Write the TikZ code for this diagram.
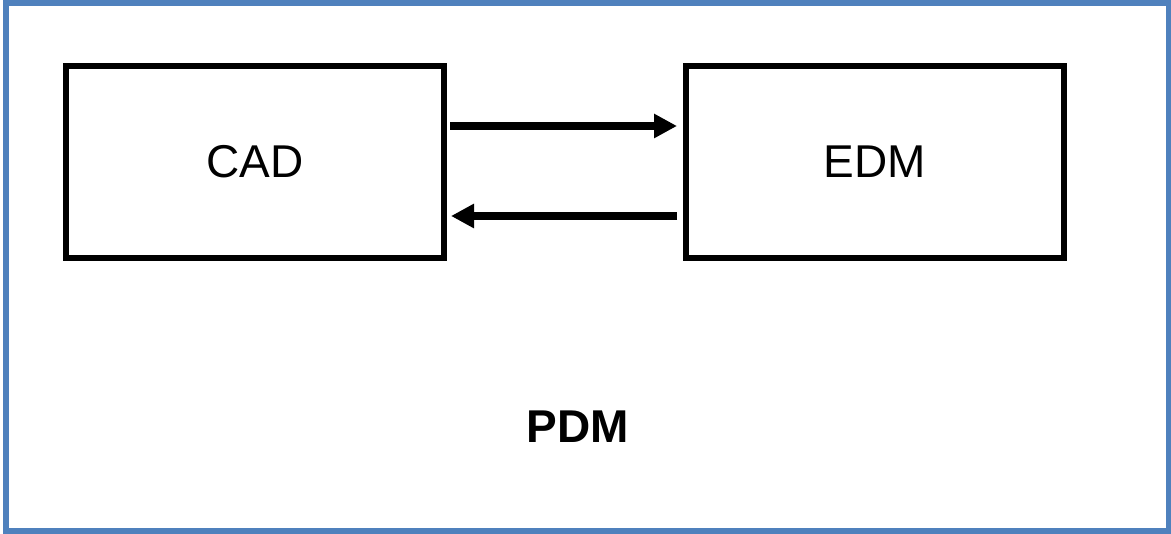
\documentclass[tikz,border=0pt]{standalone}
\usepackage{fontspec}
\setmainfont{Liberation Sans}
\usepackage{tikz}
\usetikzlibrary{arrows.meta}
\definecolor{frameblue}{RGB}{79, 129, 189}

\begin{document}
\begin{tikzpicture}[
        x=0.5pt, y=0.5pt,
        node distance=310pt,
        box/.style={draw=black, line width=3pt, inner sep=0pt, minimum width=189pt, minimum height=96pt, font=\fontsize{23}{28}\selectfont},
        arrow/.style={-{Triangle[length=11.5pt, width=11.5pt]}, line width=3.8pt, black}
    ]
        \useasboundingbox (0,0) rectangle (1171,534);
        \draw[frameblue, line width=3pt] (5.5,2.5) rectangle (1168.5,530.5);

        \node[box] (cad) at (255,372) {CAD};
        \node[box, right of=cad] (edm) {EDM};
        \node[font=\fontsize{23}{28}\selectfont\bfseries] (pdm) at (578,107) {PDM};

        \draw[arrow, shorten <=1.5pt, shorten >=3pt] ([yshift=18pt]cad.east) -- ([yshift=18pt]edm.west);
        \draw[arrow, shorten <=3pt, shorten >=2pt] ([yshift=-27pt]edm.west) -- ([yshift=-27pt]cad.east);
    \end{tikzpicture}
\end{document}
